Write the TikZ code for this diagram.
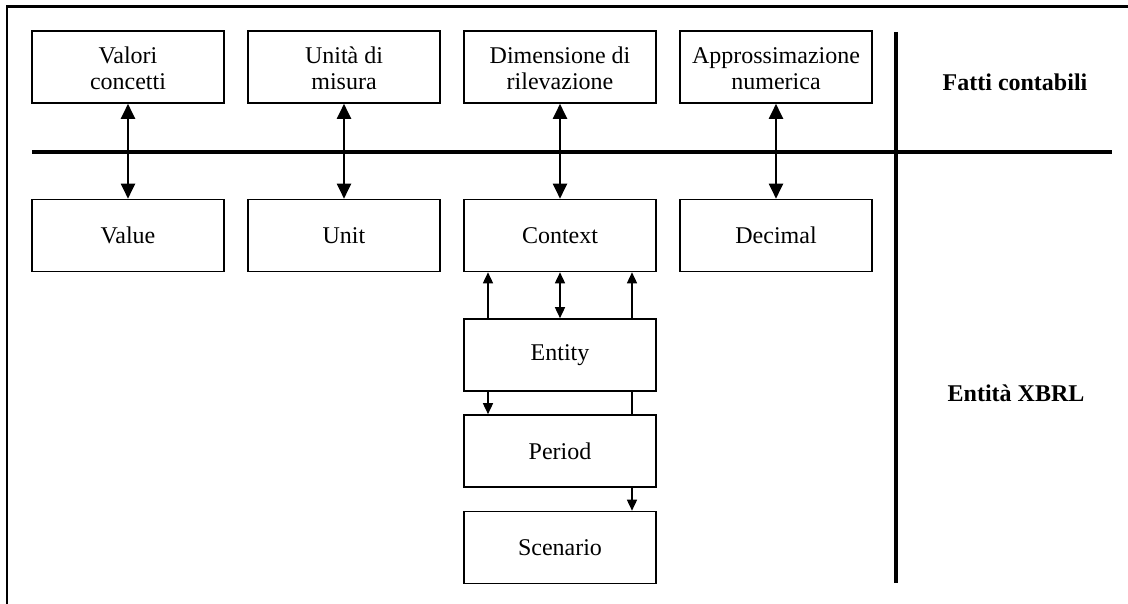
\documentclass[tikz,border=0pt]{standalone}
\usepackage{fontspec}
\setmainfont{Liberation Serif}
\usetikzlibrary{arrows.meta}
\newcommand{\lowtwo}[2]{\raisebox{-4pt}[\height][\depth]{\begin{tabular}{@{}c@{}}#1\\#2\end{tabular}}}
\begin{document}
\begin{tikzpicture}[x=1pt,y=-1pt,
  box/.style={draw,line width=1.6pt,minimum width=192pt,minimum height=72pt,inner sep=0pt,align=center,font=\fontsize{24}{26}\selectfont},
  big/.style={line width=2pt,{Triangle[length=15pt,width=14pt]}-{Triangle[length=15pt,width=14pt]}},
  smallarrow/.style={line width=1.5pt,-{Triangle[length=11pt,width=10pt]}},
  smallboth/.style={line width=1.5pt,{Triangle[length=11pt,width=10pt]}-{Triangle[length=11pt,width=10pt]}},
  lbl/.style={font=\fontsize{24}{27}\selectfont\bfseries}]
\useasboundingbox (0,0) rectangle (1128,604);
\fill[white] (0,0) rectangle (1128,604);
% frame
\draw[line width=2.4pt] (7,604) -- (7,6.5) -- (1128,6.5);
% separators
\draw[line width=3.6pt] (32,152) -- (1112,152);
\draw[line width=3.6pt] (896,32) -- (896,583);
% top boxes
\node[box] (t1) at (128,67) {\lowtwo{Valori}{concetti}};
\node[box] (t2) at (344,67) {\lowtwo{Unità di}{misura}};
\node[box] (t3) at (560,67) {\lowtwo{Dimensione di}{rilevazione}};
\node[box] (t4) at (776,67) {\lowtwo{Approssimazione}{numerica}};
% bottom boxes
\node[box] (b1) at (128,235.5) {Value};
\node[box] (b2) at (344,235.5) {Unit};
\node[box] (b3) at (560,235.5) {Context};
\node[box] (b4) at (776,235.5) {Decimal};
\node[box] (en) at (560,355) {Entity};
\node[box] (pe) at (560,451) {Period};
\node[box] (sc) at (560,547.5) {Scenario};
% labels
\node[lbl] (fc) at (1015,82) {Fatti contabili};
\node[lbl] (ex) at (1016,393) {Entità XBRL};
% main arrows
\draw[big] (t1.south) -- (b1.north);
\draw[big] (t2.south) -- (b2.north);
\draw[big] (t3.south) -- (b3.north);
\draw[big] (t4.south) -- (b4.north);
% context arrows
\draw[smallarrow] (en.north -| 488,0) -- (b3.south -| 488,0);
\draw[smallboth] (en.north) -- (b3.south);
\draw[smallarrow] (en.north -| 632,0) -- (b3.south -| 632,0);
\draw[smallarrow] (en.south -| 488,0) -- (pe.north -| 488,0);
\draw[line width=1.5pt] (en.south -| 632,0) -- (pe.north -| 632,0);
\draw[smallarrow] (pe.south -| 632,0) -- (sc.north -| 632,0);
\end{tikzpicture}
\end{document}
